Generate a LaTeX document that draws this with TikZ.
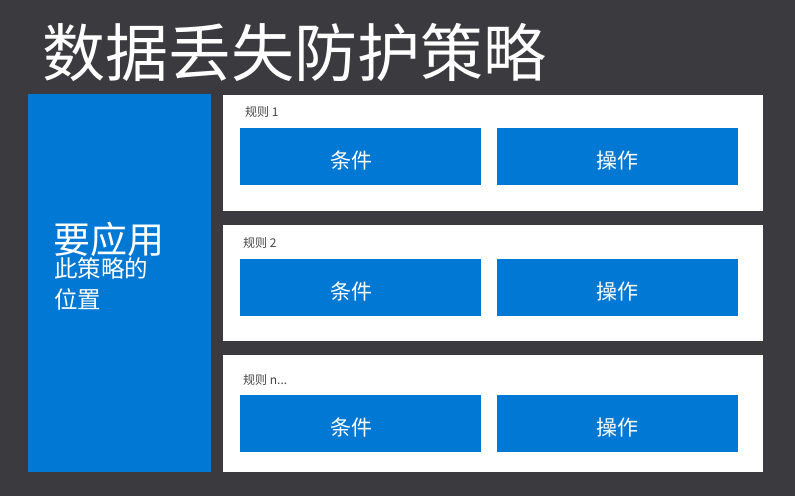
\documentclass[tikz,border=0pt]{standalone}
\usepackage{fontspec}
\setmainfont{Noto Sans CJK SC}
\newfontfamily\cjk{Noto Sans CJK SC}
\newfontfamily\cjkbold{Noto Sans CJK SC Bold}
\definecolor{bgdark}{HTML}{3B3A3F}
\definecolor{msblue}{HTML}{0078D4}
\definecolor{labelgray}{HTML}{444444}
\begin{document}
\begin{tikzpicture}[x=1pt,y=-1pt,
  panel/.style={fill=white,draw=none,minimum width=540pt,inner sep=0pt},
  bluebox/.style={fill=msblue,draw=none,minimum width=241pt,minimum height=57pt,inner sep=0pt},
  boxtext/.style={text=white,font=\cjk\fontsize{21}{21}\selectfont,inner sep=0pt},
  rulelabel/.style={anchor=west,text=labelgray,font=\cjk\fontsize{12}{12}\selectfont,inner sep=0pt},
  lefttext/.style={anchor=west,text=white,inner sep=0pt}
]
\fill[bgdark] (0,0) rectangle (795,496);
\useasboundingbox (0,0) rectangle (795,496);
% title
\node[anchor=west,text=white,inner sep=0pt,font=\cjk\fontsize{63}{63}\selectfont] (title) at (42,53) {数据丢失防护策略};
% left box
\node[fill=msblue,draw=none,minimum width=183pt,minimum height=378pt,inner sep=0pt] (where) at (119.5,283) {};
\node[lefttext,font=\cjk\fontsize{37}{37}\selectfont] (w1) at (53,239) {要应用};
\node[lefttext,font=\cjk\fontsize{23.5}{23.5}\selectfont] (w2) at (54,269) {此策略的};
\node[lefttext,font=\cjk\fontsize{23.5}{23.5}\selectfont] (w3) at (54,299) {位置};
% panels
\node[panel,minimum height=116pt] (p1) at (493,153) {};
\node[panel,minimum height=116pt] (p2) at (493,283) {};
\node[panel,minimum height=117pt] (p3) at (493,413.5) {};
\node[rulelabel] (l1) at (245,112) {规则 1};
\node[rulelabel] (l2) at (243,243) {规则 2};
\node[rulelabel] (l3) at (243,380) {规则 n...};
% boxes
\node[bluebox] (c1) at (360.5,156.5) {};
\node[bluebox] (a1) at (617.5,156.5) {};
\node[bluebox] (c2) at (360.5,287.5) {};
\node[bluebox] (a2) at (617.5,287.5) {};
\node[bluebox] (c3) at (360.5,423.5) {};
\node[bluebox] (a3) at (617.5,423.5) {};
\foreach \n in {1,2,3}{
  \node[boxtext] at ([xshift=-9pt,yshift=-4pt]c\n.center) {条件};
  \node[boxtext] at ([yshift=-4pt]a\n.center) {操作};
}
\end{tikzpicture}
\end{document}
